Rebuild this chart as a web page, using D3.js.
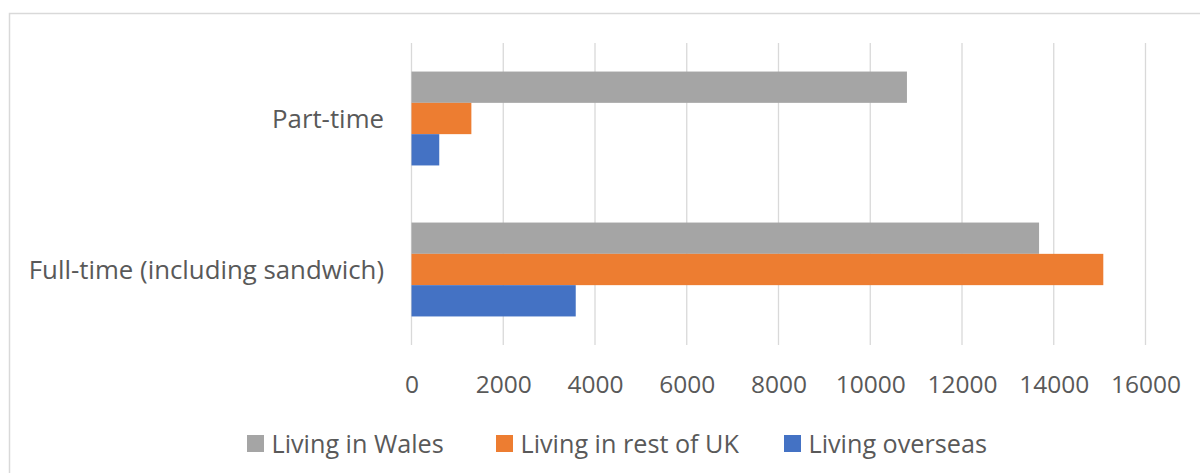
<!DOCTYPE html>
<html>
<head>
<meta charset="utf-8">
<script src="https://cdn.jsdelivr.net/npm/d3@7"></script>
<style>
  html, body { margin: 0; padding: 0; background: #fff; }
  svg { display: block; }
  text { font-family: "Open Sans", sans-serif; fill: #595959; }
</style>
</head>
<body>
<svg id="chart" width="1200" height="473"></svg>
<script>
const categories = ["Part-time", "Full-time (including sandwich)"];
const seriesNames = ["Living in Wales", "Living in rest of UK", "Living overseas"];
const seriesColors = ["#a5a5a5", "#ed7d31", "#4472c4"];
const livingInWales = [10800, 13680];
const livingInRestOfUK = [1305, 15080];
const livingOverseas = [605, 3580];
const xTicks = [0, 2000, 4000, 6000, 8000, 10000, 12000, 14000, 16000];

const seriesValues = [livingInWales, livingInRestOfUK, livingOverseas];
const rows = [];
categories.forEach((c, ci) => {
  seriesNames.forEach((s, si) => rows.push({ cat: c, series: s, si, value: seriesValues[si][ci] }));
});

const svg = d3.select("#chart");
const plot = { left: 411.5, right: 1145.5, top: 43, bottom: 345 };

// outer chart border
svg.append("rect")
  .attr("x", 9.5).attr("y", 13.5)
  .attr("width", 1200).attr("height", 470)
  .attr("fill", "none").attr("stroke", "#d9d9d9").attr("stroke-width", 1.5);

const x = d3.scaleLinear().domain([0, 16000]).range([plot.left, plot.right]);
const y0 = d3.scaleBand().domain(categories).range([plot.top, plot.bottom]);
const barH = 31.3;
const y1 = d3.scaleBand().domain(seriesNames).range([0, barH * 3]);

// gridlines
svg.append("g").selectAll("line").data(xTicks).join("line")
  .attr("x1", d => x(d)).attr("x2", d => x(d))
  .attr("y1", plot.top).attr("y2", plot.bottom)
  .attr("stroke", "#d9d9d9").attr("stroke-width", 1.3);

// bars
svg.append("g").selectAll("rect").data(rows).join("rect")
  .attr("x", x(0))
  .attr("y", d => y0(d.cat) + (y0.bandwidth() - barH * 3) / 2 + y1(d.series))
  .attr("width", d => x(d.value) - x(0))
  .attr("height", y1.bandwidth())
  .attr("fill", d => seriesColors[d.si]);

// x axis labels
const xAxis = d3.axisBottom(x).tickValues(xTicks).tickSize(0).tickPadding(0).tickFormat(d3.format("d"));
const gx = svg.append("g").attr("transform", `translate(0, 393)`).call(xAxis);
gx.select(".domain").remove();
gx.selectAll("text").attr("dy", null).attr("y", 0)
  .style("font-size", "24.5px").style("fill", "#595959").style("font-family", "'Open Sans', sans-serif");

// category labels
const yAxis = d3.axisLeft(y0).tickSize(0).tickPadding(0);
const gy = svg.append("g").attr("transform", `translate(384, 0)`).call(yAxis);
gy.select(".domain").remove();
gy.selectAll("text").attr("dy", "0.38em")
  .style("font-size", "25.8px").style("fill", "#595959").style("font-family", "'Open Sans', sans-serif");

// legend
const legendX = [247, 496, 784];
const lg = svg.append("g").selectAll("g").data(seriesNames).join("g")
  .attr("transform", (d, i) => `translate(${legendX[i]}, 443.5)`);
lg.append("rect").attr("x", 0).attr("y", -8.5).attr("width", 17).attr("height", 17)
  .attr("fill", (d, i) => seriesColors[i]);
lg.append("text").attr("x", 24.5).attr("y", 0).attr("dy", "0.36em")
  .style("font-size", "25.2px").text(d => d);
</script>
</body>
</html>
